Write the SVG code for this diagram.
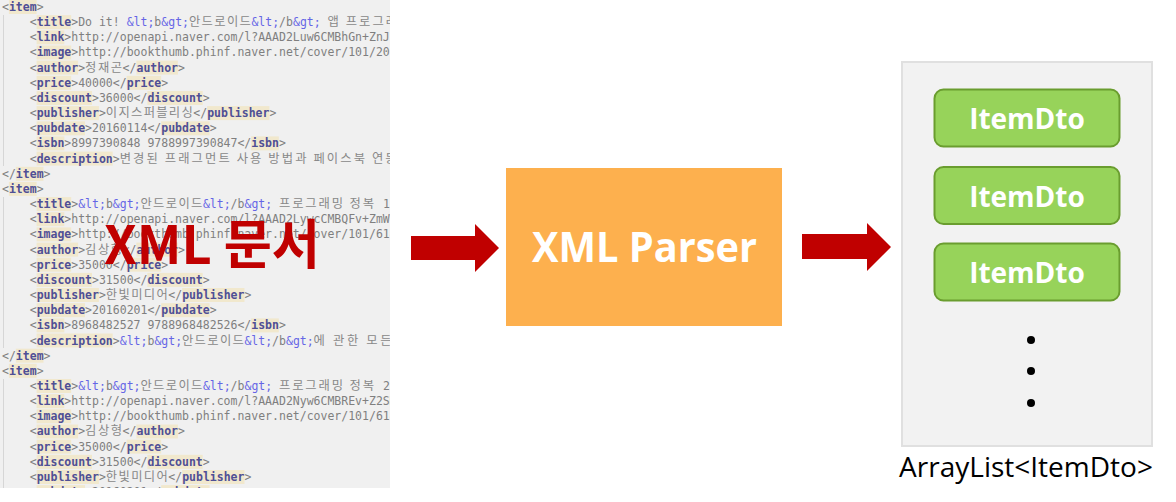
<svg xmlns="http://www.w3.org/2000/svg" width="1176" height="502" viewBox="0 0 1176 502">
<defs>
<style>
.code{font-family:"DejaVu Sans Mono","Liberation Mono",monospace;font-size:11.5px;fill:#7f7f7f}
.n{fill:#4f4f95;font-weight:bold}
.e{fill:#6565e6}
.k{font-family:"Noto Sans CJK KR",sans-serif;font-size:12.3px;fill:#888888}
.hl{fill:#f1e8cd}
.guide{stroke:#d6d6d6;stroke-width:1}
.arrow{fill:#c00000}
.item rect{fill:#97d35a;stroke:#6a9d2f;stroke-width:2}
.item text{font-family:"Open Sans","Noto Sans",sans-serif;font-weight:bold;font-size:28px;fill:#ffffff;text-anchor:middle}
.dot{fill:#000000}
</style>
<clipPath id="codeClip"><rect x="0" y="0" width="390" height="488"/></clipPath>
</defs>

<g id="xml-document">
<rect x="0" y="0" width="390" height="488" fill="#f0f0f0"/>
<g clip-path="url(#codeClip)">
<g class="hl-layer">
<rect class="hl" x="8.9" y="0" width="27.7" height="14"/>
<rect class="hl" x="36.6" y="15.2" width="34.6" height="14"/>
<rect class="hl" x="36.6" y="30.3" width="27.7" height="14"/>
<rect class="hl" x="36.6" y="45.5" width="34.6" height="14"/>
<rect class="hl" x="36.6" y="60.6" width="41.5" height="14"/><rect class="hl" x="136.4" y="60.6" width="41.5" height="14"/>
<rect class="hl" x="36.6" y="75.8" width="34.6" height="14"/><rect class="hl" x="126.6" y="75.8" width="34.6" height="14"/>
<rect class="hl" x="36.6" y="91" width="55.4" height="14"/><rect class="hl" x="147.3" y="91" width="55.4" height="14"/>
<rect class="hl" x="36.6" y="106.1" width="62.3" height="14"/><rect class="hl" x="207.1" y="106.1" width="62.3" height="14"/>
<rect class="hl" x="36.6" y="121.3" width="48.4" height="14"/><rect class="hl" x="161.2" y="121.3" width="48.4" height="14"/>
<rect class="hl" x="36.6" y="136.4" width="27.7" height="14"/><rect class="hl" x="251.1" y="136.4" width="27.7" height="14"/>
<rect class="hl" x="36.6" y="151.6" width="76.1" height="14"/>
<rect class="hl" x="15.8" y="166.8" width="27.7" height="14"/>
<rect class="hl" x="8.9" y="181.9" width="27.7" height="14"/>
<rect class="hl" x="36.6" y="197.1" width="34.6" height="14"/>
<rect class="hl" x="36.6" y="212.2" width="27.7" height="14"/>
<rect class="hl" x="36.6" y="227.4" width="34.6" height="14"/>
<rect class="hl" x="36.6" y="242.6" width="41.5" height="14"/><rect class="hl" x="136.4" y="242.6" width="41.5" height="14"/>
<rect class="hl" x="36.6" y="257.7" width="34.6" height="14"/><rect class="hl" x="126.6" y="257.7" width="34.6" height="14"/>
<rect class="hl" x="36.6" y="272.9" width="55.4" height="14"/><rect class="hl" x="147.3" y="272.9" width="55.4" height="14"/>
<rect class="hl" x="36.6" y="288" width="62.3" height="14"/><rect class="hl" x="182.2" y="288" width="62.3" height="14"/>
<rect class="hl" x="36.6" y="303.2" width="48.4" height="14"/><rect class="hl" x="161.2" y="303.2" width="48.4" height="14"/>
<rect class="hl" x="36.6" y="318.4" width="27.7" height="14"/><rect class="hl" x="251.1" y="318.4" width="27.7" height="14"/>
<rect class="hl" x="36.6" y="333.5" width="76.1" height="14"/>
<rect class="hl" x="15.8" y="348.7" width="27.7" height="14"/>
<rect class="hl" x="8.9" y="363.8" width="27.7" height="14"/>
<rect class="hl" x="36.6" y="379" width="34.6" height="14"/>
<rect class="hl" x="36.6" y="394.2" width="27.7" height="14"/>
<rect class="hl" x="36.6" y="409.3" width="34.6" height="14"/>
<rect class="hl" x="36.6" y="424.5" width="41.5" height="14"/><rect class="hl" x="136.4" y="424.5" width="41.5" height="14"/>
<rect class="hl" x="36.6" y="439.6" width="34.6" height="14"/><rect class="hl" x="126.6" y="439.6" width="34.6" height="14"/>
<rect class="hl" x="36.6" y="454.8" width="55.4" height="14"/><rect class="hl" x="147.3" y="454.8" width="55.4" height="14"/>
<rect class="hl" x="36.6" y="470" width="62.3" height="14"/><rect class="hl" x="182.2" y="470" width="62.3" height="14"/>
<rect class="hl" x="36.6" y="485.1" width="48.4" height="14"/><rect class="hl" x="161.2" y="485.1" width="48.4" height="14"/>
</g>
<line class="guide" x1="3.5" y1="15" x2="3.5" y2="166"/>
<line class="guide" x1="3.5" y1="197" x2="3.5" y2="348"/>
<line class="guide" x1="3.5" y1="379" x2="3.5" y2="488"/>
<g class="code" xml:space="preserve">
<text x="2" y="11">&lt;<tspan class="n">item</tspan>&gt;</text>
<text x="29.7" y="26.16">&lt;<tspan class="n">title</tspan>&gt;Do it! <tspan class="e">&amp;lt;</tspan>b<tspan class="e">&amp;gt;</tspan><tspan x="188.9" class="k" textLength="62" lengthAdjust="spacing">안드로이드</tspan><tspan x="251.4" class="e">&amp;lt;</tspan>/b<tspan class="e">&amp;gt;</tspan> <tspan x="327.5" class="k" textLength="83" lengthAdjust="spacing">앱 프로그래밍</tspan></text>
<text x="29.7" y="41.32">&lt;<tspan class="n">link</tspan>&gt;http://openapi.naver.com/l?AAAD2Luw6CMBhGn+ZnJ</text>
<text x="29.7" y="56.48">&lt;<tspan class="n">image</tspan>&gt;http://bookthumb.phinf.naver.net/cover/101/209</text>
<text x="29.7" y="71.64">&lt;<tspan class="n">author</tspan>&gt;<tspan x="85.1" class="k" textLength="37" lengthAdjust="spacing">정재곤</tspan><tspan x="122.6">&lt;/</tspan><tspan class="n">author</tspan>&gt;</text>
<text x="29.7" y="86.8">&lt;<tspan class="n">price</tspan>&gt;40000&lt;/<tspan class="n">price</tspan>&gt;</text>
<text x="29.7" y="101.96">&lt;<tspan class="n">discount</tspan>&gt;36000&lt;/<tspan class="n">discount</tspan>&gt;</text>
<text x="29.7" y="117.12">&lt;<tspan class="n">publisher</tspan>&gt;<tspan x="105.8" class="k" textLength="87" lengthAdjust="spacing">이지스퍼블리싱</tspan><tspan x="193.3">&lt;/</tspan><tspan class="n">publisher</tspan>&gt;</text>
<text x="29.7" y="132.28">&lt;<tspan class="n">pubdate</tspan>&gt;20160114&lt;/<tspan class="n">pubdate</tspan>&gt;</text>
<text x="29.7" y="147.44">&lt;<tspan class="n">isbn</tspan>&gt;8997390848 9788997390847&lt;/<tspan class="n">isbn</tspan>&gt;</text>
<text x="29.7" y="162.6">&lt;<tspan class="n">description</tspan>&gt;<tspan x="119.7" class="k" textLength="277" lengthAdjust="spacing">변경된 프래그먼트 사용 방법과 페이스북 연동</tspan></text>
<text x="2" y="177.76">&lt;/<tspan class="n">item</tspan>&gt;</text>
<text x="2" y="192.92">&lt;<tspan class="n">item</tspan>&gt;</text>
<text x="29.7" y="208.08">&lt;<tspan class="n">title</tspan>&gt;<tspan class="e">&amp;lt;</tspan>b<tspan class="e">&amp;gt;</tspan><tspan x="140.4" class="k" textLength="62" lengthAdjust="spacing">안드로이드</tspan><tspan x="202.9" class="e">&amp;lt;</tspan>/b<tspan class="e">&amp;gt;</tspan> <tspan x="279" class="k" textLength="95" lengthAdjust="spacing">프로그래밍 정복</tspan><tspan x="376"> 1</tspan></text>
<text x="29.7" y="223.24">&lt;<tspan class="n">link</tspan>&gt;http://openapi.naver.com/l?AAAD2LywcCMBQFv+ZmWU</text>
<text x="29.7" y="238.4">&lt;<tspan class="n">image</tspan>&gt;http://bookthumb.phinf.naver.net/cover/101/614</text>
<text x="29.7" y="253.56">&lt;<tspan class="n">author</tspan>&gt;<tspan x="85.1" class="k" textLength="37" lengthAdjust="spacing">김상형</tspan><tspan x="122.6">&lt;/</tspan><tspan class="n">author</tspan>&gt;</text>
<text x="29.7" y="268.72">&lt;<tspan class="n">price</tspan>&gt;35000&lt;/<tspan class="n">price</tspan>&gt;</text>
<text x="29.7" y="283.88">&lt;<tspan class="n">discount</tspan>&gt;31500&lt;/<tspan class="n">discount</tspan>&gt;</text>
<text x="29.7" y="299.04">&lt;<tspan class="n">publisher</tspan>&gt;<tspan x="105.8" class="k" textLength="62" lengthAdjust="spacing">한빛미디어</tspan><tspan x="168.3">&lt;/</tspan><tspan class="n">publisher</tspan>&gt;</text>
<text x="29.7" y="314.2">&lt;<tspan class="n">pubdate</tspan>&gt;20160201&lt;/<tspan class="n">pubdate</tspan>&gt;</text>
<text x="29.7" y="329.36">&lt;<tspan class="n">isbn</tspan>&gt;8968482527 9788968482526&lt;/<tspan class="n">isbn</tspan>&gt;</text>
<text x="29.7" y="344.52">&lt;<tspan class="n">description</tspan>&gt;<tspan class="e">&amp;lt;</tspan>b<tspan class="e">&amp;gt;</tspan><tspan x="181.9" class="k" textLength="62" lengthAdjust="spacing">안드로이드</tspan><tspan x="244.4" class="e">&amp;lt;</tspan>/b<tspan class="e">&amp;gt;</tspan><tspan x="313.6" class="k" textLength="78" lengthAdjust="spacing">에 관한 모든</tspan></text>
<text x="2" y="359.68">&lt;/<tspan class="n">item</tspan>&gt;</text>
<text x="2" y="374.84">&lt;<tspan class="n">item</tspan>&gt;</text>
<text x="29.7" y="390">&lt;<tspan class="n">title</tspan>&gt;<tspan class="e">&amp;lt;</tspan>b<tspan class="e">&amp;gt;</tspan><tspan x="140.4" class="k" textLength="62" lengthAdjust="spacing">안드로이드</tspan><tspan x="202.9" class="e">&amp;lt;</tspan>/b<tspan class="e">&amp;gt;</tspan> <tspan x="279" class="k" textLength="95" lengthAdjust="spacing">프로그래밍 정복</tspan><tspan x="376"> 2</tspan></text>
<text x="29.7" y="405.16">&lt;<tspan class="n">link</tspan>&gt;http://openapi.naver.com/l?AAAD2Nyw6CMBREv+Z2SM</text>
<text x="29.7" y="420.32">&lt;<tspan class="n">image</tspan>&gt;http://bookthumb.phinf.naver.net/cover/101/614</text>
<text x="29.7" y="435.48">&lt;<tspan class="n">author</tspan>&gt;<tspan x="85.1" class="k" textLength="37" lengthAdjust="spacing">김상형</tspan><tspan x="122.6">&lt;/</tspan><tspan class="n">author</tspan>&gt;</text>
<text x="29.7" y="450.64">&lt;<tspan class="n">price</tspan>&gt;35000&lt;/<tspan class="n">price</tspan>&gt;</text>
<text x="29.7" y="465.8">&lt;<tspan class="n">discount</tspan>&gt;31500&lt;/<tspan class="n">discount</tspan>&gt;</text>
<text x="29.7" y="480.96">&lt;<tspan class="n">publisher</tspan>&gt;<tspan x="105.8" class="k" textLength="62" lengthAdjust="spacing">한빛미디어</tspan><tspan x="168.3">&lt;/</tspan><tspan class="n">publisher</tspan>&gt;</text>
<text x="29.7" y="496.12">&lt;<tspan class="n">pubdate</tspan>&gt;20160201&lt;/<tspan class="n">pubdate</tspan>&gt;</text>
</g>
</g>
<text x="104" y="264" font-family="'Noto Sans CJK KR','Noto Sans',sans-serif" font-weight="bold" font-size="53" fill="#c00000" textLength="216" lengthAdjust="spacingAndGlyphs">XML 문서</text>
</g>

<g id="connectors">
<polygon class="arrow" points="411,236 475,236 475,224 499,248 475,272 475,260 411,260"/>
<polygon class="arrow" points="802,234 867,234 867,223 891,247 867,271 867,259 802,259"/>
</g>

<g id="xml-parser">
<rect x="506" y="168" width="276" height="158" fill="#fdb04e"/>
<text x="532" y="262" font-family="'Open Sans','Noto Sans',sans-serif" font-weight="bold" font-size="42" fill="#ffffff" textLength="225" lengthAdjust="spacingAndGlyphs">XML Parser</text>
</g>

<g id="arraylist">
<rect x="902" y="62" width="250" height="384" fill="#f2f2f2" stroke="#e0e0e0" stroke-width="2"/>
<g id="item1" class="item"><rect x="934.5" y="89.5" width="185" height="57" rx="9"/><text x="1027" y="129">ItemDto</text></g>
<g id="item2" class="item"><rect x="934.5" y="167" width="185" height="57" rx="9"/><text x="1027" y="206.5">ItemDto</text></g>
<g id="item3" class="item"><rect x="934.5" y="243.5" width="185" height="57" rx="9"/><text x="1027" y="283">ItemDto</text></g>
<circle class="dot" cx="1031" cy="340" r="4"/>
<circle class="dot" cx="1031" cy="371" r="4"/>
<circle class="dot" cx="1031" cy="403" r="4"/>
<text x="1026" y="477" font-family="'Open Sans','Noto Sans',sans-serif" font-size="28" fill="#000000" text-anchor="middle">ArrayList&lt;ItemDto&gt;</text>
</g>
</svg>
